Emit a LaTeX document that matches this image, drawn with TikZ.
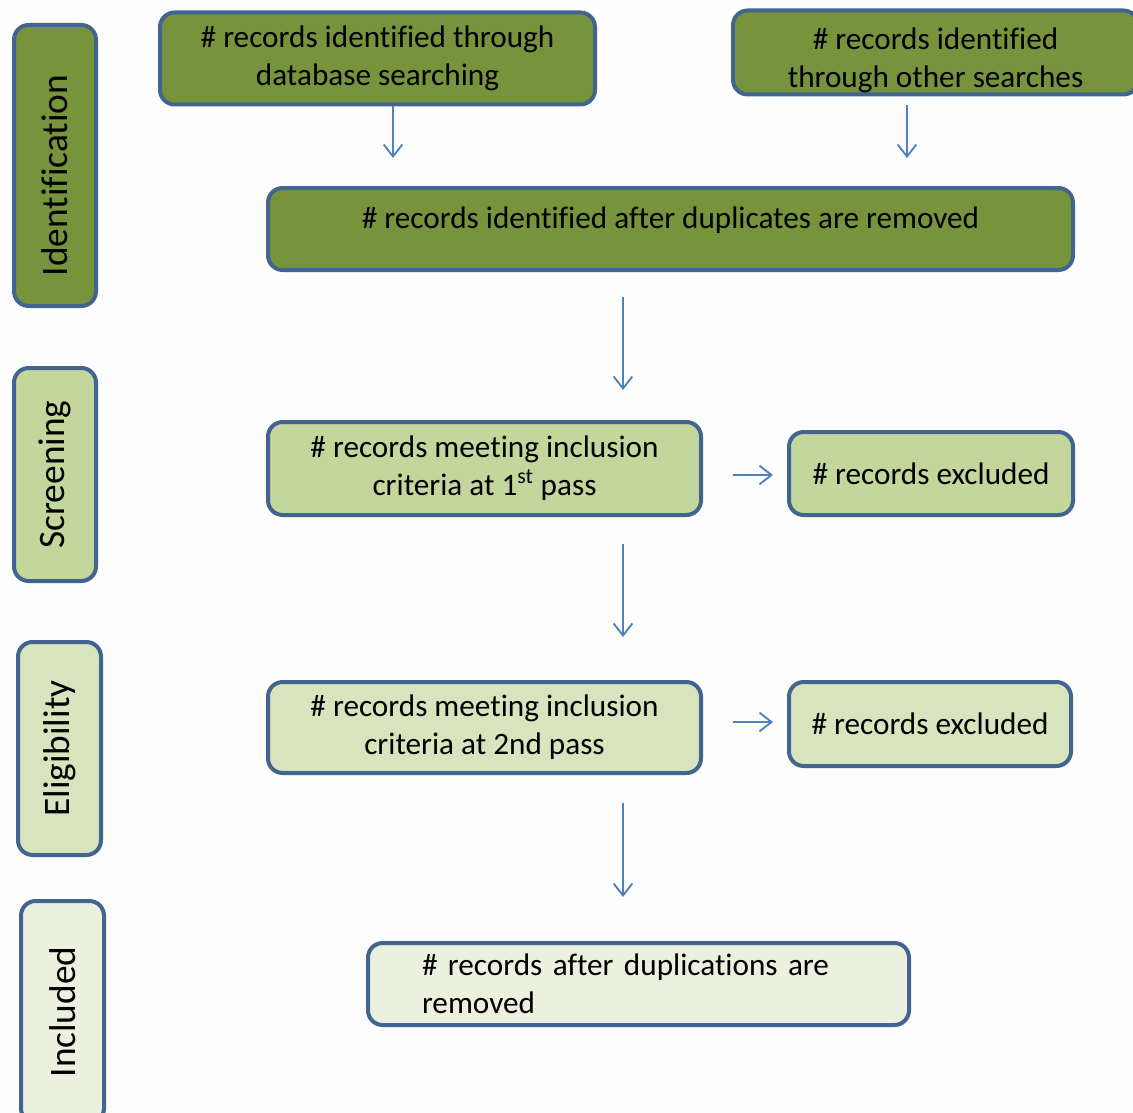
\documentclass[tikz,border=0pt]{standalone}
\usepackage{fontspec}
\setmainfont{Carlito}[Ligatures=NoCommon]
\usetikzlibrary{arrows.meta,calc}
\definecolor{dkgreen}{HTML}{77933C}
\definecolor{mdgreen}{HTML}{C3D69B}
\definecolor{ltgreen}{HTML}{D7E4BD}
\definecolor{pagreen}{HTML}{EBF1DE}
\definecolor{bordblue}{HTML}{41658F}
\definecolor{arrblue}{HTML}{4F81BD}
\definecolor{bgcol}{HTML}{FDFDFD}
\tikzset{
  box/.style={draw=bordblue, line width=3pt, rounded corners=11pt, align=center,
    font=\fontsize{23.4pt}{28.5pt}\selectfont, inner sep=0pt},
  stage/.style={draw=bordblue, line width=3pt, rounded corners=11pt,
    font=\fontsize{28pt}{34pt}\selectfont, inner sep=0pt, rotate=90},
  arr/.style={draw=arrblue, line width=1.4pt, -{Straight Barb[length=9pt,width=14pt,line width=1.4pt]}}
}
\begin{document}
\begin{tikzpicture}[x=0.75pt,y=-0.75pt]
\useasboundingbox (0,0) rectangle (1133,1113);
\clip (0,0) rectangle (1133,1113);
\fill[bgcol] (0,0) rectangle (1133,1113);

% stage labels
\node[stage, fill=dkgreen, minimum width=281*0.75pt, minimum height=82*0.75pt] (sid) at (55,165.5) {Identification\hspace*{15pt}};
\node[stage, fill=mdgreen, minimum width=213*0.75pt, minimum height=82*0.75pt] (ssc) at (55,474.5) {Screening};
\node[stage, fill=ltgreen, minimum width=213*0.75pt, minimum height=83*0.75pt] (sel) at (59.5,748.5) {Eligibility};
\node[stage, fill=pagreen, minimum width=222*0.75pt, minimum height=83*0.75pt] (sin) at (62.5,1012) {Included};

% boxes
\node[box, fill=dkgreen, minimum width=435*0.75pt, minimum height=92*0.75pt] (A) at (377.5,58.5)
  {\# records identified through\\database searching};
\node[box, fill=dkgreen, minimum width=405*0.75pt, minimum height=83*0.75pt, text height=58pt, text depth=5pt] (B) at (935.5,52.5)
  {\# records identified\\through other searches};
\node[box, fill=dkgreen, minimum width=805*0.75pt, minimum height=82*0.75pt, text height=16pt, text depth=17pt] (C) at (670.5,229)
  {\# records identified after duplicates are removed};
\node[box, fill=mdgreen, minimum width=433*0.75pt, minimum height=93*0.75pt] (D) at (484.5,468.5)
  {\# records meeting inclusion\\criteria at 1\textsuperscript{st} pass};
\node[box, fill=mdgreen, minimum width=284*0.75pt, minimum height=83*0.75pt] (E) at (931,473.5)
  {\# records excluded};
\node[box, fill=ltgreen, minimum width=433*0.75pt, minimum height=91*0.75pt] (F) at (484.5,727.5)
  {\# records meeting inclusion\\criteria at 2nd pass};
\node[box, fill=ltgreen, minimum width=282*0.75pt, minimum height=84*0.75pt] (G) at (930,724)
  {\# records excluded};
\node[box, fill=pagreen, minimum width=541*0.75pt, minimum height=82*0.75pt, text width=433*0.75pt, align=left] (H) at (638.5,984)
  {\# records after duplications are\\removed};

% helper coordinates for connector positions
\coordinate (ca) at (393,0);
\coordinate (cb) at (907,0);
\coordinate (cm) at (623,0);
\coordinate (r1) at (0,475);
\coordinate (r2) at (0,722);

% connectors
\draw[arr, shorten >=21pt] (A.south -| ca) -- (C.north -| ca);
\draw[arr, shorten <=6.75pt, shorten >=21pt] (B.south -| cb) -- (C.north -| cb);
\draw[arr, shorten <=18.75pt, shorten >=22.5pt] (C.south -| cm) -- (D.north -| cm);
\draw[arr, shorten <=22.5pt, shorten >=10.5pt] (D.east |- r1) -- (E.west |- r1);
\draw[arr, shorten <=20.25pt, shorten >=32.25pt] (D.south -| cm) -- (F.north -| cm);
\draw[arr, shorten <=22.5pt, shorten >=10.5pt] (F.east |- r2) -- (G.west |- r2);
\draw[arr, shorten <=21pt, shorten >=33pt] (F.south -| cm) -- (H.north -| cm);
\end{tikzpicture}
\end{document}
